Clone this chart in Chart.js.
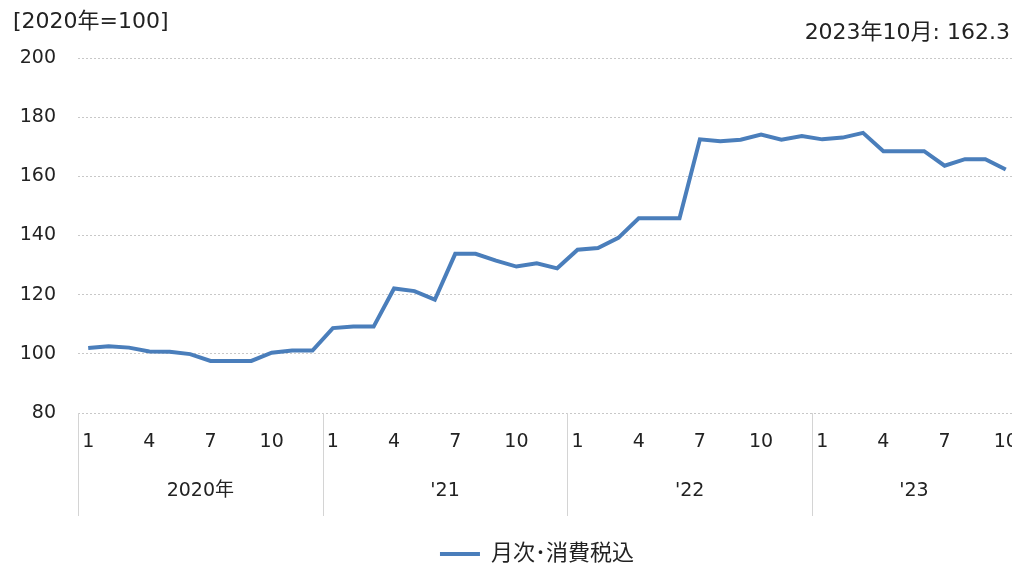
<!DOCTYPE html>
<html>
<head>
<meta charset="utf-8">
<script src="https://cdn.jsdelivr.net/npm/chart.js@4"></script>
<style>
html, body { margin: 0; padding: 0; background: #fff; overflow: hidden; }
#wrap { position: relative; width: 1036px; height: 568px; }
.note { position: absolute; font-family: "DejaVu Sans", "Noto Sans CJK JP", sans-serif; font-size: 22px; line-height: 22px; color: #222; white-space: nowrap; }
#unit { left: 13px; top: 10px; }
#latest { right: 26px; top: 21px; }
</style>
</head>
<body>
<div id="wrap">
  <canvas id="chart_canvas" width="1036" height="568"></canvas>
  <div class="note" id="unit">[2020年=100]</div>
  <div class="note" id="latest">2023年10月: 162.3</div>
</div>
<script>
var FONT = '"DejaVu Sans", "Noto Sans CJK JP", sans-serif';

// monthly categories, Jan 2020 - Oct 2023
var months = [
    '2020/1','2020/2','2020/3','2020/4','2020/5','2020/6','2020/7','2020/8','2020/9','2020/10','2020/11','2020/12',
    '2021/1','2021/2','2021/3','2021/4','2021/5','2021/6','2021/7','2021/8','2021/9','2021/10','2021/11','2021/12',
    '2022/1','2022/2','2022/3','2022/4','2022/5','2022/6','2022/7','2022/8','2022/9','2022/10','2022/11','2022/12',
    '2023/1','2023/2','2023/3','2023/4','2023/5','2023/6','2023/7','2023/8','2023/9','2023/10'
];
var monthTicks = ['1', '4', '7', '10'];
var yearLabels = ['2020年', "'21", "'22", "'23"];
var seriesName = '月次･消費税込';
var values = [
    102.0, 102.6, 102.1, 100.8, 100.7, 99.9, 97.6, 97.6, 97.6, 100.4, 101.1, 101.1,
    108.7, 109.2, 109.2, 122.1, 121.2, 118.3, 133.8, 133.8, 131.5, 129.5, 130.6, 128.9,
    135.2, 135.8, 139.2, 145.8, 145.8, 145.8, 172.5, 171.9, 172.4, 174.1, 172.4, 173.6,
    172.5, 173.1, 174.7, 168.5, 168.5, 168.5, 163.6, 165.8, 165.8, 162.3
];
var yTicks = [80, 100, 120, 140, 160, 180, 200];

// year captions and separators under the month labels
var yearAxis = {
    id: 'yearAxis',
    afterLayout: function(chart) {
        // legend sits a little left of the plot centre and low on the page
        chart.legend.left -= 20;
        chart.legend.top += 7;
        chart.legend.bottom += 7;
    },
    afterDraw: function(chart) {
        var ctx = chart.ctx;
        var x = chart.scales.x;
        var bottom = chart.chartArea.bottom;
        ctx.save();
        ctx.strokeStyle = '#d4d4d4';
        ctx.lineWidth = 1;
        ctx.fillStyle = '#222';
        ctx.font = '19px ' + FONT;
        ctx.textAlign = 'center';
        ctx.textBaseline = 'middle';
        for (var i = 0; i < yearLabels.length; i++) {
            var first = i * 12;
            var last = Math.min(first + 11, months.length - 1);
            var px = Math.round(x.getPixelForValue(first - 0.5)) + 0.5;
            ctx.beginPath();
            ctx.moveTo(px, bottom);
            ctx.lineTo(px, bottom + 103);
            ctx.stroke();
            ctx.fillText(yearLabels[i], x.getPixelForValue((first + last) / 2), bottom + 78);
        }
        ctx.restore();
    }
};

var canvas = document.getElementById('chart_canvas');
var chart = new Chart(canvas.getContext('2d'), {
    type: 'line',
    data: {
        labels: months,
        datasets: [{
            label: seriesName,
            data: values,
            borderColor: '#4a7ebb',
            backgroundColor: '#4a7ebb',
            borderWidth: 4,
            pointRadius: 0,
            tension: 0,
            fill: false
        }]
    },
    options: {
        responsive: false,
        animation: false,
        layout: { padding: { top: 58, right: 15, left: 0, bottom: 0 } },
        scales: {
            x: {
                offset: true,
                grid: { display: false, drawTicks: false },
                border: { display: false },
                ticks: {
                    autoSkip: false,
                    maxRotation: 0,
                    padding: 18,
                    color: '#222',
                    font: { family: FONT, size: 19 },
                    callback: function(v) {
                        var m = months[v].split('/')[1];
                        return monthTicks.indexOf(m) >= 0 ? m : '';
                    }
                },
                afterFit: function(s) { s.height = 120; }
            },
            y: {
                min: 80,
                max: 200,
                afterBuildTicks: function(s) {
                    s.ticks = yTicks.map(function(v) { return { value: v }; });
                },
                grid: { color: '#c8c8c8', lineWidth: 1, drawTicks: false },
                border: { display: false, dash: [2, 2] },
                ticks: {
                    padding: 22,
                    color: '#222',
                    font: { family: FONT, size: 19 }
                },
                afterFit: function(s) { s.width = 78; }
            }
        },
        plugins: {
            legend: {
                position: 'bottom',
                fullSize: false,
                labels: {
                    usePointStyle: true,
                    pointStyle: 'line',
                    pointStyleWidth: 40,
                    color: '#222',
                    padding: 3,
                    font: { family: FONT, size: 22 }
                }
            },
            tooltip: { enabled: false }
        }
    },
    plugins: [yearAxis]
});
</script>
</body>
</html>
